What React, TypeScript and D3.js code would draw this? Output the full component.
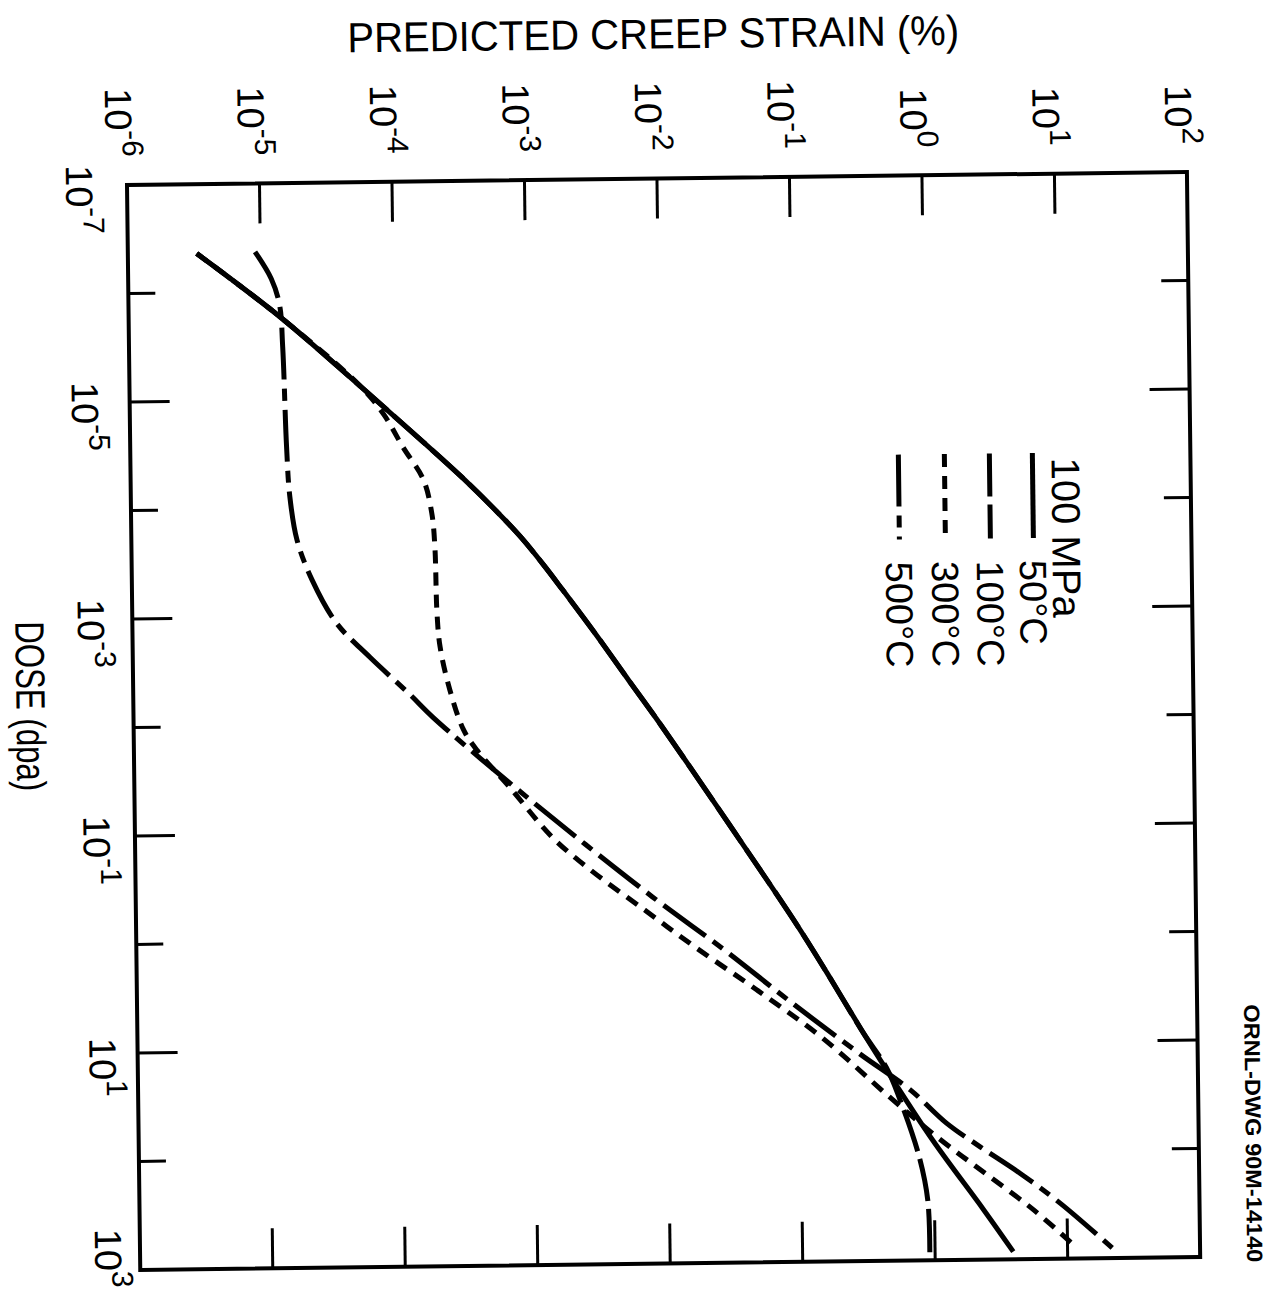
import React from 'react';
import * as d3 from 'd3';

// Axis decades (log10 exponents)
const strainTickExps = [-6, -5, -4, -3, -2, -1, 0, 1, 2];
const doseTickExps = [-7, -6, -5, -4, -3, -2, -1, 0, 1, 2, 3];
const doseLabelExps = [-7, -5, -3, -1, 1, 3];

// Series: [log10(dose, dpa), log10(predicted creep strain, %)]
const curve50C: [number, number][] = [
  [-6.36, -5.48], [-5.78, -4.87], [-5.11, -4.25], [-4.6, -3.79], [-4.27, -3.5],
  [-3.95, -3.24], [-3.71, -3.06], [-3.45, -2.89], [-3.22, -2.75], [-2.8, -2.5],
  [-2.38, -2.26], [-1.98, -2.03], [-1.05, -1.52], [-0.12, -1.02], [0.34, -0.79],
  [0.9, -0.52], [1.18, -0.38], [1.89, -0.01], [2.54, 0.37], [2.93, 0.59],
];
const curve100C: [number, number][] = [
  [-6.36, -5.48], [-5.78, -4.87], [-5.11, -4.25], [-4.6, -3.79], [-4.27, -3.5],
  [-3.95, -3.24], [-3.71, -3.06], [-3.45, -2.89], [-3.22, -2.75], [-2.8, -2.5],
  [-2.38, -2.26], [-1.98, -2.03], [-1.05, -1.52], [-0.12, -1.02], [0.34, -0.79],
  [0.9, -0.52], [1.22, -0.35], [1.52, -0.25], [2.05, -0.11], [2.45, -0.05], [2.97, -0.04],
];
const curve300C: [number, number][] = [
  [-6.36, -5.48], [-5.78, -4.87], [-5.11, -4.25], [-4.85, -4.08], [-4.55, -3.94],
  [-4.25, -3.79], [-3.94, -3.73], [-3.63, -3.71], [-3.02, -3.7], [-2.71, -3.68],
  [-2.31, -3.61], [-1.94, -3.51], [-1.75, -3.41], [-1.41, -3.17], [-0.94, -2.85],
  [-0.64, -2.57], [-0.26, -2.16], [0.09, -1.78], [0.49, -1.32], [0.93, -0.84],
  [1.49, -0.33], [1.87, 0.03], [2.2, 0.38], [2.55, 0.75], [2.88, 1.05],
];
const curve500C: [number, number][] = [
  [-6.37, -5.04], [-6.12, -4.92], [-5.88, -4.86], [-5.49, -4.84], [-4.57, -4.82],
  [-4.11, -4.8], [-3.71, -4.75], [-3.34, -4.64], [-2.94, -4.46], [-2.62, -4.21],
  [-2.27, -3.91], [-2.06, -3.74], [-1.47, -3.19], [-0.87, -2.6], [-0.38, -2.1],
  [0.11, -1.57], [0.61, -1.06], [1.09, -0.55], [1.43, -0.17], [1.74, 0.1],
  [1.96, 0.35], [2.21, 0.65], [2.49, 0.95], [2.91, 1.34],
];

const legendTitle = '100 MPa';
const seriesNames = ['50°C', '100°C', '300°C', '500°C'];
const seriesData = [curve50C, curve100C, curve300C, curve500C];
const seriesDash = ['none', '43 8', '13 9', '52 9 12 9'];

const FONT = "'Liberation Sans', Arial, Helvetica, sans-serif";

function PowLabel({ transform, exp, anchor }: { transform: string; exp: number; anchor: string }) {
  return (
    <text transform={transform} fontSize={38} textAnchor={anchor}>
      10
      <tspan dy={-17} fontSize={30}>
        {String(exp)}
      </tspan>
    </text>
  );
}

export default function App() {
  const W = 1060;
  const H = 1085;
  const sx = d3.scaleLog().domain([1e-6, 1e2]).range([0, W]);
  const sy = d3.scaleLog().domain([1e-7, 1e3]).range([0, H]);
  const line = d3
    .line<[number, number]>()
    .x((d) => sx(Math.pow(10, d[1])))
    .y((d) => sy(Math.pow(10, d[0])))
    .curve(d3.curveCatmullRom.alpha(0.5));

  const legendU = [902, 859, 814, 768];

  return (
    <svg
      width={1279}
      height={1298}
      style={{ position: 'absolute', left: 0, top: 0, background: '#fff' }}
      fontFamily={FONT}
    >
      <rect x={0} y={0} width={1279} height={1298} fill="#fff" />
      <g transform="translate(127,185) rotate(-0.7)">
        {/* curves */}
        {seriesData.map((data, i) => (
          <path
            key={seriesNames[i]}
            d={line(data) || ''}
            fill="none"
            stroke="#000"
            strokeWidth={5}
            strokeDasharray={seriesDash[i]}
          />
        ))}
        {/* frame */}
        <rect x={0} y={0} width={W} height={H} fill="none" stroke="#000" strokeWidth={4} />
        {/* strain ticks top & bottom */}
        {strainTickExps.slice(1, -1).map((e) => {
          const x = sx(Math.pow(10, e));
          return (
            <g key={'st' + e}>
              <line x1={x} x2={x} y1={0} y2={40} stroke="#000" strokeWidth={3} />
              <line x1={x} x2={x} y1={H} y2={H - 40} stroke="#000" strokeWidth={3} />
            </g>
          );
        })}
        {/* dose ticks left & right */}
        {doseTickExps.slice(1, -1).map((e) => {
          const y = sy(Math.pow(10, e));
          const len = Math.abs(e) % 2 === 1 ? 40 : 27;
          return (
            <g key={'dt' + e}>
              <line x1={0} x2={len} y1={y} y2={y} stroke="#000" strokeWidth={3} />
              <line x1={W} x2={W - len} y1={y} y2={y} stroke="#000" strokeWidth={3} />
            </g>
          );
        })}
        {/* strain tick labels */}
        {strainTickExps.map((e) => (
          <PowLabel
            key={'sl' + e}
            transform={`translate(${sx(Math.pow(10, e)) - 21},-28) rotate(90)`}
            exp={e}
            anchor="end"
          />
        ))}
        {/* dose tick labels */}
        {doseLabelExps.map((e) => {
          const y = sy(Math.pow(10, e));
          const u = -61 + (16 * y) / H;
          const off = Math.min(14, H - 12 - y);
          return (
            <PowLabel
              key={'dl' + e}
              transform={`translate(${u},${y + off}) rotate(90)`}
              exp={e}
              anchor="middle"
            />
          );
        })}
        {/* axis titles */}
        <text
          x={528}
          y={-130}
          textAnchor="middle"
          fontSize={42}
          textLength={612}
          lengthAdjust="spacingAndGlyphs"
        >
          PREDICTED CREEP STRAIN (%)
        </text>
        <text
          transform="translate(-117,520) rotate(90)"
          textAnchor="middle"
          fontSize={41}
          textLength={170}
          lengthAdjust="spacingAndGlyphs"
        >
          DOSE (dpa)
        </text>
        {/* legend */}
        <text transform={`translate(${935 - 14},284) rotate(90)`} fontSize={40}>
          {legendTitle}
        </text>
        {seriesNames.map((name, i) => (
          <g key={'lg' + name}>
            <line
              x1={legendU[i]}
              x2={legendU[i]}
              y1={279}
              y2={364}
              stroke="#000"
              strokeWidth={5}
              strokeDasharray={seriesDash[i]}
            />
            <text transform={`translate(${legendU[i] - 14},386) rotate(90)`} fontSize={38}>
              {name}
            </text>
          </g>
        ))}
        <text
          transform="translate(1107,962) rotate(90)"
          textAnchor="middle"
          fontSize={22}
          fontWeight="bold"
          textLength={258}
          lengthAdjust="spacingAndGlyphs"
        >
          ORNL-DWG 90M-14140
        </text>
      </g>
    </svg>
  );
}
